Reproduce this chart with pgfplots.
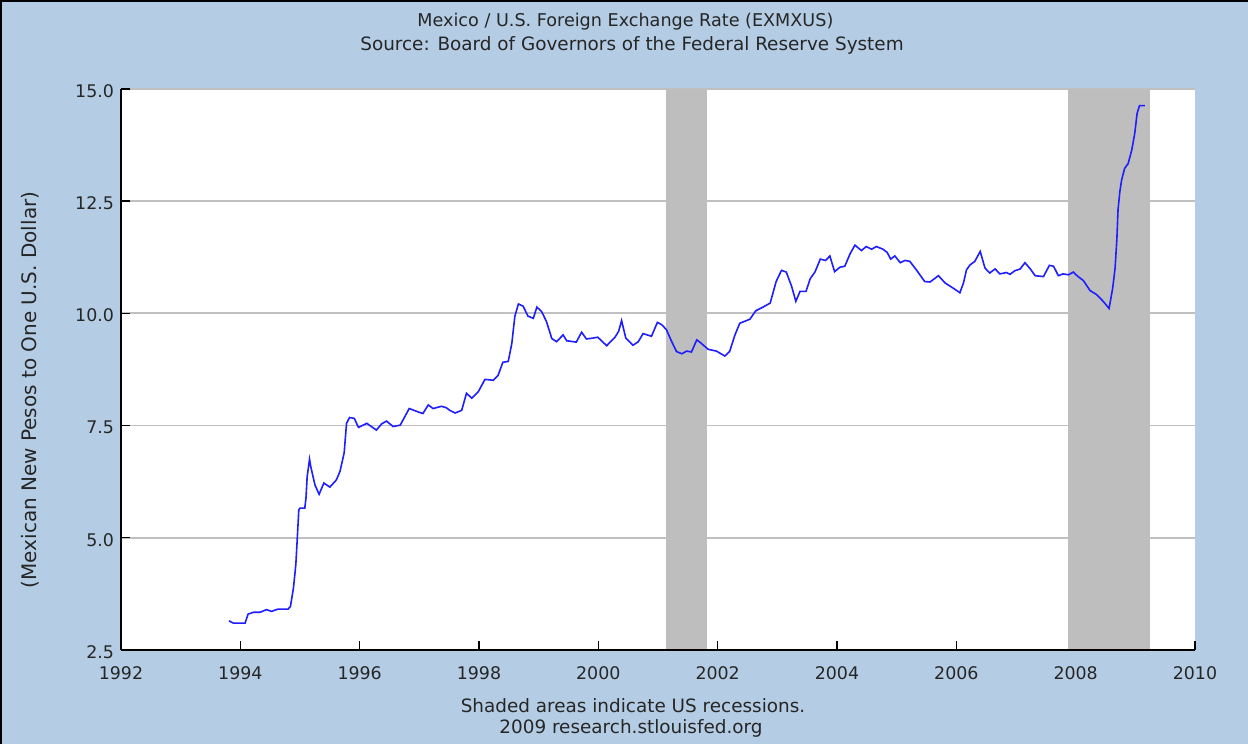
\documentclass[border=0pt]{standalone}
\usepackage{pgfplots}
\pgfplotsset{compat=1.18}
\usepackage{fontspec}
\setmainfont{DejaVu Sans}
\definecolor{bgblue}{HTML}{B4CDE4}
\definecolor{recgray}{HTML}{BEBEBE}
\definecolor{gridgray}{HTML}{C0C0C0}
\definecolor{lineblue}{HTML}{1E1EFF}
\begin{document}
\begin{tikzpicture}
\useasboundingbox (0,0) rectangle (624pt,372pt);
\fill[bgblue] (0,0) rectangle (624pt,372pt);
\draw[black,line width=0.8pt] (0.4pt,0) -- (0.4pt,371.6pt) -- (624pt,371.6pt);
\node[font=\fontsize{8.8}{10}\selectfont,text=black!85] at (312.7pt,361pt) {Mexico / U.S. Foreign Exchange Rate (EXMXUS)};
\node[font=\fontsize{9.2}{10}\selectfont,text=black!85] at (316pt,349.5pt) {Source: Board of Governors of the Federal Reserve System};
\node[font=\fontsize{9.2}{10}\selectfont,text=black!85] at (316.5pt,19pt) {Shaded areas indicate US recessions.};
\node[font=\fontsize{9.2}{10}\selectfont,text=black!85] at (315.5pt,8pt) {2009 research.stlouisfed.org};
\node[font=\fontsize{10}{11}\selectfont,text=black!85,rotate=90] at (15pt,177pt) {(Mexican New Pesos to One U.S. Dollar)};
\begin{axis}[
  at={(60.5pt,47pt)}, anchor=south west,
  scale only axis, width=537pt, height=280.5pt,
  xmin=1992, xmax=2010, ymin=2.5, ymax=15,
  axis x line=bottom, axis y line=left,
  axis line style={-, line width=0.8pt, black},
  axis background/.style={fill=white},
  xtick={1992,1994,...,2010},
  ytick={2.5,5,7.5,10,12.5,15},
  tick align=inside,
  major tick length=4.5pt,
  tick style={black, line width=0.7pt},
  ymajorgrids,
  grid style={gridgray, line width=0.9pt},
  tick label style={font=\fontsize{8.7}{10}\selectfont, text=black!85},
  /pgf/number format/assume math mode=true,
  xticklabel style={/pgf/number format/1000 sep={}, yshift=-5pt},
  yticklabel style={/pgf/number format/fixed, /pgf/number format/fixed zerofill, /pgf/number format/precision=1, yshift=-1pt},
  xtick pos=bottom, ytick pos=left,
]
\addplot[fill=recgray, draw=none] coordinates {(2001.13,2.52) (2001.13,15) (2001.82,15) (2001.82,2.52)} -- cycle;
\addplot[fill=recgray, draw=none] coordinates {(2007.87,2.52) (2007.87,15) (2009.24,15) (2009.24,2.52)} -- cycle;
\addplot[lineblue, line width=0.8pt] coordinates {
(1993.81,3.15) (1993.88,3.10) (1994.08,3.10) (1994.13,3.30) (1994.22,3.34) (1994.33,3.34)
(1994.44,3.40) (1994.52,3.36) (1994.63,3.41) (1994.80,3.41) (1994.84,3.47) (1994.89,3.88)
(1994.93,4.40) (1994.95,4.88) (1994.98,5.62) (1995.00,5.66) (1995.08,5.66) (1995.10,5.88)
(1995.12,6.36) (1995.16,6.75) (1995.18,6.59) (1995.25,6.18) (1995.32,5.97) (1995.40,6.22)
(1995.50,6.13) (1995.61,6.29) (1995.67,6.48) (1995.74,6.89) (1995.78,7.55) (1995.83,7.68)
(1995.91,7.66) (1995.98,7.46) (1996.12,7.55) (1996.28,7.40) (1996.37,7.54) (1996.45,7.60)
(1996.56,7.48) (1996.68,7.51) (1996.83,7.88) (1997.01,7.79) (1997.06,7.77) (1997.15,7.96)
(1997.23,7.88) (1997.37,7.93) (1997.45,7.90) (1997.51,7.84) (1997.60,7.78) (1997.71,7.84)
(1997.79,8.22) (1997.88,8.11) (1997.99,8.26) (1998.10,8.53) (1998.24,8.51) (1998.32,8.62)
(1998.40,8.91) (1998.49,8.93) (1998.55,9.33) (1998.60,9.93) (1998.66,10.21) (1998.74,10.16)
(1998.82,9.94) (1998.91,9.89) (1998.97,10.14) (1999.05,10.04) (1999.13,9.82) (1999.22,9.44)
(1999.30,9.37) (1999.41,9.52) (1999.47,9.39) (1999.63,9.36) (1999.72,9.58) (1999.80,9.43)
(1999.91,9.45) (1999.99,9.47) (2000.14,9.28) (2000.28,9.47) (2000.34,9.60) (2000.39,9.84)
(2000.46,9.45) (2000.58,9.29) (2000.67,9.37) (2000.75,9.55) (2000.89,9.49) (2000.99,9.80)
(2001.06,9.75) (2001.14,9.64) (2001.23,9.37) (2001.31,9.15) (2001.40,9.10) (2001.48,9.16)
(2001.56,9.14) (2001.65,9.41) (2001.71,9.35) (2001.84,9.20) (2001.98,9.16) (2002.12,9.05)
(2002.20,9.15) (2002.29,9.52) (2002.37,9.78) (2002.54,9.87) (2002.64,10.06) (2002.76,10.14)
(2002.88,10.23) (2002.98,10.71) (2003.07,10.96) (2003.15,10.92) (2003.24,10.60) (2003.31,10.27)
(2003.38,10.49) (2003.48,10.49) (2003.55,10.77) (2003.63,10.92) (2003.72,11.21) (2003.81,11.18)
(2003.88,11.28) (2003.96,10.93) (2004.05,11.03) (2004.13,11.05) (2004.22,11.33) (2004.30,11.52)
(2004.41,11.40) (2004.49,11.49) (2004.58,11.43) (2004.66,11.49) (2004.77,11.43) (2004.84,11.36)
(2004.90,11.21) (2004.97,11.28) (2005.06,11.13) (2005.14,11.18) (2005.22,11.16) (2005.33,10.97)
(2005.47,10.71) (2005.56,10.70) (2005.70,10.84) (2005.81,10.68) (2005.95,10.56) (2006.06,10.46)
(2006.12,10.68) (2006.17,10.97) (2006.23,11.08) (2006.31,11.16) (2006.40,11.38) (2006.48,11.01)
(2006.56,10.90) (2006.65,10.99) (2006.73,10.88) (2006.84,10.91) (2006.90,10.87) (2006.98,10.95)
(2007.07,10.99) (2007.15,11.13) (2007.24,10.99) (2007.32,10.84) (2007.46,10.82) (2007.56,11.07)
(2007.63,11.05) (2007.71,10.84) (2007.79,10.88) (2007.88,10.86) (2007.96,10.92) (2008.04,10.82)
(2008.13,10.73) (2008.24,10.51) (2008.35,10.42) (2008.46,10.27) (2008.56,10.11) (2008.62,10.56)
(2008.66,11.00) (2008.69,11.64) (2008.71,12.31) (2008.74,12.71) (2008.77,12.97) (2008.82,13.23)
(2008.88,13.34) (2008.94,13.64) (2008.99,14.01) (2009.03,14.46) (2009.07,14.63) (2009.16,14.63)
};
\end{axis}
\end{tikzpicture}
\end{document}
